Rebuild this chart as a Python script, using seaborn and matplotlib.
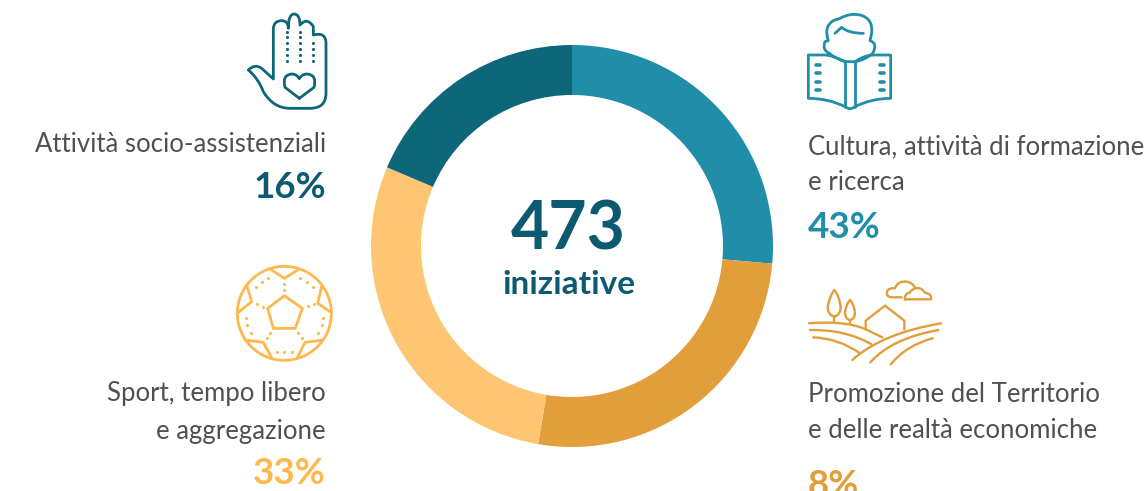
import matplotlib
matplotlib.use('Agg')
import seaborn as sns
import matplotlib.pyplot as plt
from matplotlib.path import Path
from matplotlib.patches import PathPatch, Circle

# data (arc sizes, the printed % are separate labels)
categories = ['Cultura', 'Promozione', 'Sport', 'Socio-assistenziali']
arc_values = [26.4, 26.3, 28.7, 18.6]
arc_colors = ['#208DA9', '#E19E3A', '#FEC672', '#0E6779']
pct_labels = ['43%', '8%', '33%', '16%']
pct_colors = ['#208DA9', '#E19E3A', '#FDB84F', '#0B5A72']

sns.set_theme(style='white')
plt.rcParams['font.family'] = ['Lato', 'DejaVu Sans']

W, H = 1145, 491
fig = plt.figure(figsize=(W / 100, H / 100), dpi=100, facecolor='white')

# donut
cx, cy, r = 572, 246, 201
ax = fig.add_axes([(cx - r) / W, 1 - (cy + r) / H, 2 * r / W, 2 * r / H])
ax.pie(arc_values, colors=sns.color_palette(arc_colors), startangle=90, counterclock=False,
       radius=1, wedgeprops={'width': 50 / 201, 'linewidth': 0})
ax.set_xlim(-1, 1)
ax.set_ylim(-1, 1)
ax.set_aspect('equal')

# overlay in pixel coordinates for text and icons
ov = fig.add_axes([0, 0, 1, 1])
ov.set_xlim(0, W)
ov.set_ylim(H, 0)
ov.axis('off')
ov.patch.set_alpha(0)

DARK = '#0B5A72'
TXT = '#505050'
ov.text(568, 231, '473', fontsize=47.5, fontweight='bold', color=DARK, ha='center', va='center')
ov.text(569, 285, 'iniziative', fontsize=24, fontweight='bold', color=DARK, ha='center', va='center')

lab = dict(fontsize=18.5, color=TXT, va='center')
ov.text(326, 145, 'Attività socio-assistenziali', ha='right', **lab)
ov.text(326, 394, 'Sport, tempo libero', ha='right', **lab)
ov.text(326, 431, 'e aggregazione', ha='right', **lab)
ov.text(808, 147, 'Cultura, attività di formazione', ha='left', clip_on=True, **lab)
ov.text(808, 183, 'e ricerca', ha='left', **lab)
ov.text(808, 394, 'Promozione del Territorio', ha='left', **lab)
ov.text(808, 431, 'e delle realtà economiche', ha='left', **lab)

pct = dict(fontsize=26.5, fontweight='bold', va='center')
ov.text(326, 188, pct_labels[3], color=pct_colors[3], ha='right', **pct)
ov.text(326, 474, pct_labels[2], color=pct_colors[2], ha='right', **pct)
ov.text(808, 227, pct_labels[0], color=pct_colors[0], ha='left', **pct)
ov.text(808, 485, pct_labels[1], color=pct_colors[1], ha='left', **pct)


def shape(x0, y0, cmds, color, lw=2.0, closed=False):
    # icon coordinates are 3x zoom pixels; 2-tuple = line, 4-tuple = quadratic curve
    verts, codes = [], []
    for i, c in enumerate(cmds):
        if len(c) == 2:
            verts.append((x0 + c[0] / 3, y0 + c[1] / 3))
            codes.append(Path.MOVETO if i == 0 else Path.LINETO)
        else:
            verts += [(x0 + c[0] / 3, y0 + c[1] / 3), (x0 + c[2] / 3, y0 + c[3] / 3)]
            codes += [Path.CURVE3, Path.CURVE3]
    if closed:
        verts.append(verts[0])
        codes.append(Path.CLOSEPOLY)
    ov.add_patch(PathPatch(Path(verts, codes), fill=False, edgecolor=color, lw=lw,
                           capstyle='round', joinstyle='round'))


def dots(x0, y0, pts, color, s=5):
    ov.scatter([x0 + p[0] / 3 for p in pts], [y0 + p[1] / 3 for p in pts], s=s, color=color, linewidths=0)


# hand
c = '#0E6779'
shape(220, 0, [(85, 210), (105, 190, 125, 205), (160, 237), (160, 85), (162, 62, 185, 62), (205, 62, 205, 85),
               (205, 42, 222, 42), (240, 42, 240, 75), (262, 50, 280, 80), (280, 105), (318, 95, 318, 130),
               (318, 280), (318, 325, 270, 325), (210, 325), (160, 325, 130, 275), (115, 235, 85, 210)], c, closed=True)
shape(220, 0, [(238, 295), (195, 262), (185, 225, 215, 222), (230, 222, 238, 236), (246, 222, 262, 222),
               (292, 225, 282, 262), (238, 295)], c)
dots(220, 0, [(x, y) for x in (200, 240) for y in (95, 112, 130, 147, 165, 183)] +
     [(280, y) for y in (130, 147, 165, 183)], c)

# reader with book
c = '#208DA9'
shape(790, 0, [(118, 160), (95, 150, 105, 125), (115, 122), (100, 80, 130, 62), (150, 55), (180, 38, 210, 45),
               (250, 55, 245, 100), (240, 122), (265, 130, 248, 160), (225, 180, 195, 185)], c)
shape(790, 0, [(118, 160), (135, 175, 165, 185)], c)
shape(790, 0, [(135, 100), (155, 82), (175, 100, 220, 100)], c)
shape(790, 0, [(165, 185), (125, 165, 105, 165), (55, 165), (55, 295), (115, 295, 165, 320),
               (180, 332, 195, 320), (245, 295, 302, 295), (302, 165), (250, 165), (225, 165, 195, 185),
               (165, 185)], c)
shape(790, 0, [(165, 185), (165, 320)], c)
shape(790, 0, [(195, 185), (195, 320)], c)
for y in (195, 220, 245, 270):
    shape(790, 0, [(78, y), (90, y)], c, lw=2.6)
    shape(790, 0, [(270, y), (282, y)], c, lw=2.6)

# football
c = '#FDB84F'
ov.add_patch(Circle((220 + 193 / 3, 255 + 175 / 3), 47, fill=False, edgecolor=c, lw=2.0))
shape(220, 255, [(193, 122), (247, 160), (226, 220), (160, 220), (143, 160)], c, closed=True)
shape(220, 255, [(150, 42), (193, 70), (238, 42)], c)
shape(220, 255, [(80, 90), (95, 140), (55, 172)], c)
shape(220, 255, [(305, 95), (293, 145), (333, 172)], c)
shape(220, 255, [(75, 255), (130, 262), (155, 308)], c)
shape(220, 255, [(310, 255), (255, 262), (232, 308)], c)
dots(220, 255, [(193, 88), (193, 105), (145, 68), (125, 80), (108, 95), (240, 68), (260, 80),
                (278, 95), (112, 148), (130, 155), (263, 153), (282, 146), (77, 188), (82, 211), (92, 233),
                (310, 188), (305, 211), (295, 233), (150, 235), (140, 250), (235, 235), (247, 250),
                (170, 290), (193, 292), (216, 290)], c)

# landscape
c = '#E19E3A'
L = (795, 270)
shape(*L, [(118, 140), (98, 135, 98, 110), (105, 75, 118, 60), (132, 75, 137, 110), (137, 135, 118, 140)], c, lw=1.7)
shape(*L, [(118, 140), (118, 158)], c, lw=1.7)
shape(*L, [(165, 150), (150, 148, 150, 125), (155, 100, 165, 90), (175, 100, 180, 125), (180, 148, 165, 150)], c, lw=1.7)
shape(*L, [(165, 150), (165, 162)], c, lw=1.7)
shape(*L, [(212, 178), (212, 152), (270, 107), (328, 152), (328, 178)], c, lw=1.7)
shape(*L, [(42, 160), (150, 150, 212, 178), (262, 202)], c, lw=1.7)
shape(*L, [(45, 180), (150, 178, 228, 222)], c, lw=1.7)
shape(*L, [(55, 202), (130, 205, 192, 248)], c, lw=1.7)
shape(*L, [(172, 270), (260, 190, 438, 160)], c, lw=1.7)
shape(*L, [(226, 277), (290, 205, 430, 180)], c, lw=1.7)
shape(*L, [(287, 283), (335, 225, 413, 205)], c, lw=1.7)
shape(*L, [(320, 82), (290, 82), (272, 80, 276, 65), (282, 52, 300, 55), (308, 32, 335, 35), (355, 38, 360, 55)], c, lw=1.7)
shape(*L, [(330, 88), (408, 88), (412, 72, 390, 68), (378, 50, 360, 55), (345, 62, 345, 68), (328, 70, 330, 88)], c, lw=1.7)

fig.savefig('out.png', dpi=100, facecolor='white')
